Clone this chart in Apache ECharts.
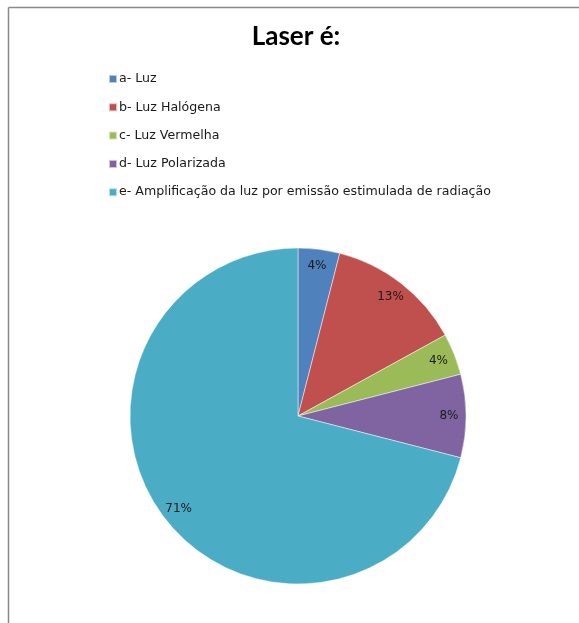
<!DOCTYPE html>
<html>
<head>
<meta charset="utf-8">
<script src="https://cdn.jsdelivr.net/npm/echarts@6/dist/echarts.min.js"></script>
<style>
  html, body { margin: 0; padding: 0; background: #fff; }
  #chart { width: 579px; height: 623px; }
</style>
</head>
<body>
<div id="chart"></div>
<script>
// Survey answers to "Laser é:" (share of responses, %)
const categories = [
  'a- Luz',
  'b- Luz Halógena',
  'c- Luz Vermelha',
  'd- Luz Polarizada',
  'e- Amplificação da luz por emissão estimulada de radiação'
];
const shares = [4, 13, 4, 8, 71];
const colors = ['#4F81BD', '#C0504D', '#9BBB59', '#8064A2', '#4BACC6'];

const pieData = categories.map((name, i) => ({ name, value: shares[i] }));
const baseFont = '"DejaVu Sans", sans-serif';

const chart = echarts.init(document.getElementById('chart'), null, { renderer: 'canvas' });
chart.setOption({
  animation: false,
  color: colors,
  title: {
    text: 'Laser é:',
    left: 296,
    top: 24,
    padding: 0,
    textAlign: 'center',
    textStyle: { fontFamily: 'Lato, "Open Sans", sans-serif', fontWeight: 'bold', fontSize: 26, color: '#000' }
  },
  legend: {
    orient: 'vertical',
    left: 108,
    top: 72,
    padding: 0,
    itemWidth: 8,
    itemHeight: 8,
    itemGap: 14.3,
    icon: 'rect',
    selectedMode: false,
    textStyle: { fontFamily: baseFont, fontSize: 12.6, color: '#1a1a1a', lineHeight: 14, padding: [0, 0, 0, -3] },
    data: categories
  },
  graphic: [
    { type: 'line', shape: { x1: 8.5, y1: 7.5, x2: 579, y2: 7.5 }, style: { stroke: '#8a8a8a', lineWidth: 1.5 } },
    { type: 'line', shape: { x1: 8.5, y1: 7.5, x2: 8.5, y2: 623 }, style: { stroke: '#8a8a8a', lineWidth: 1.5 } }
  ],
  series: [
    {
      // the pie itself
      type: 'pie',
      center: [298, 416],
      radius: [0, 168],
      startAngle: 90,
      clockwise: true,
      label: { show: false },
      labelLine: { show: false },
      emphasis: { disabled: true },
      itemStyle: { borderColor: 'rgba(255,255,255,0.6)', borderWidth: 0.8 },
      data: pieData
    },
    {
      // transparent outer ring that carries the percentage labels near the rim
      type: 'pie',
      center: [298, 416],
      radius: [128, 168],
      startAngle: 90,
      clockwise: true,
      silent: true,
      legendHoverLink: false,
      itemStyle: { color: 'transparent', borderWidth: 0 },
      label: {
        show: true,
        position: 'inside',
        formatter: '{d}%',
        fontFamily: baseFont,
        fontSize: 12,
        color: '#1a1a1a'
      },
      labelLine: { show: false },
      emphasis: { disabled: true },
      data: pieData
    }
  ]
});
</script>
</body>
</html>
